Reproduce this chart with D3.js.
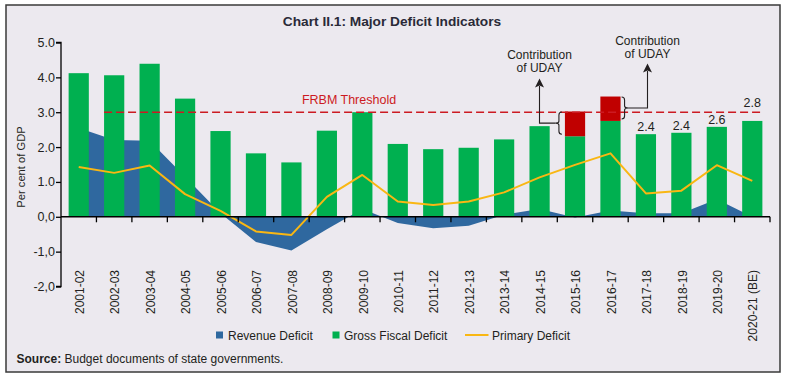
<!DOCTYPE html>
<html>
<head>
<meta charset="utf-8">
<script src="https://cdn.jsdelivr.net/npm/d3@7"></script>
<style>
  html, body { margin: 0; padding: 0; background: #ffffff; }
  svg { display: block; font-family: "Liberation Sans", Arial, sans-serif; }
</style>
</head>
<body>
<svg id="chart" width="787" height="380"></svg>
<script>
// ---------- data ----------
const categories = ["2001-02","2002-03","2003-04","2004-05","2005-06","2006-07","2007-08","2008-09","2009-10","2010-11",
                    "2011-12","2012-13","2013-14","2014-15","2015-16","2016-17","2017-18","2018-19","2019-20","2020-21 (BE)"];
const grossFiscalDeficit = [4.12,4.06,4.39,3.39,2.46,1.82,1.56,2.47,3.00,2.09,1.94,1.98,2.22,2.60,3.02,3.45,2.37,2.41,2.58,2.75];
const udayContribution   = [0,0,0,0,0,0,0,0,0,0,0,0,0,0,0.71,0.70,0,0,0,0];
const revenueDeficit     = [2.55,2.20,2.18,1.15,0.10,-0.72,-0.97,-0.36,0.22,-0.18,-0.33,-0.26,0.06,0.22,-0.02,0.18,0.10,0.10,0.50,0.00];
const primaryDeficit     = [1.43,1.26,1.47,0.65,0.17,-0.42,-0.52,0.57,1.20,0.44,0.34,0.44,0.70,1.13,1.49,1.82,0.67,0.75,1.48,1.03];
const yTickValues = [-2,-1,0,1,2,3,4,5];
const yTickLabels = ["-2,0","-1,0","0,0","1.0","2.0","3.0","4.0","5.0"];
const valueLabelCats = ["2017-18","2018-19","2019-20","2020-21 (BE)"];
const valueLabelTexts = ["2.4","2.4","2.6","2.8"];
const frbmThreshold = 3.0;
const udayCats = ["2015-16","2016-17"];

// ---------- styles ----------
const C = {
  bg: "#ece9ef", frame: "#3a3a3a", text: "#231f20",
  green: "#00b050", red: "#c00000", blue: "#2f689f", orange: "#f9b713", frbm: "#cc1a22"
};

const svg = d3.select("#chart");
svg.append("rect").attr("x",6).attr("y",5).attr("width",774).attr("height",367)
   .attr("fill",C.bg).attr("stroke",C.frame).attr("stroke-width",1.5);

const x = d3.scaleBand().domain(categories).range([61,770]).paddingInner(0.43).paddingOuter(0.215);
const step = x.step();
const y = d3.scaleLinear().domain([-2,5]).range([286.5,42.5]);
const cx = d => x(d) + x.bandwidth()/2;

// title
svg.append("text").attr("x",392).attr("y",26).attr("text-anchor","middle")
   .attr("font-size",13.7).attr("font-weight","bold").attr("fill","#2a2a38")
   .text("Chart II.1: Major Deficit Indicators");

// revenue deficit area
const area = d3.area().x((d,i)=>cx(categories[i])).y0(y(0)).y1(d=>y(d));
svg.append("path").datum(revenueDeficit).attr("d",area).attr("fill",C.blue);

// bars
const bars = svg.append("g");
categories.forEach((c,i)=>{
  const base = grossFiscalDeficit[i] - udayContribution[i];
  bars.append("rect").attr("x",x(c)).attr("width",x.bandwidth())
      .attr("y",y(base)).attr("height",y(0)-y(base)).attr("fill",C.green);
  if (udayContribution[i] > 0) {
    bars.append("rect").attr("x",x(c)).attr("width",x.bandwidth())
        .attr("y",y(grossFiscalDeficit[i])).attr("height",y(base)-y(grossFiscalDeficit[i])).attr("fill",C.red);
  }
});

// FRBM threshold
svg.append("line").attr("x1",x(categories[1])).attr("x2",x(categories[19])+x.bandwidth())
   .attr("y1",y(frbmThreshold)).attr("y2",y(frbmThreshold))
   .attr("stroke",C.frbm).attr("stroke-width",1.6).attr("stroke-dasharray","8,4");
svg.append("text").attr("x",349).attr("y",y(frbmThreshold)-8.5).attr("text-anchor","middle")
   .attr("font-size",12.5).attr("fill",C.frbm).text("FRBM Threshold");

// primary deficit line
const line = d3.line().x((d,i)=>cx(categories[i])).y(d=>y(d));
svg.append("path").datum(primaryDeficit).attr("d",line).attr("fill","none")
   .attr("stroke",C.orange).attr("stroke-width",2).attr("stroke-linejoin","round");

// axes
const yAxis = d3.axisLeft(y).tickValues(yTickValues).tickSize(5)
   .tickFormat((d,i)=>yTickLabels[i]);
const gy = svg.append("g").attr("transform","translate(61,0)").call(yAxis);
gy.select(".domain").attr("stroke","#000").attr("stroke-width",1.3).attr("d","M-5,"+y(5)+"H0V"+y(-2)+"H-5");
gy.selectAll(".tick line").attr("stroke","#000").attr("stroke-width",1.3);
gy.selectAll(".tick text").attr("font-size",12.5).attr("fill",C.text).attr("x",-6)
   .attr("font-family","Liberation Sans, Arial, sans-serif");

// x axis line and ticks at band boundaries
const gx = svg.append("g");
gx.append("line").attr("x1",61).attr("x2",770).attr("y1",y(0)).attr("y2",y(0))
  .attr("stroke","#000").attr("stroke-width",1.5);
categories.forEach((c,i)=>{
  const bx = x(c) - x.paddingOuter()*0 + x.bandwidth() + (step - x.bandwidth())/2;
  gx.append("line").attr("x1",bx).attr("x2",bx).attr("y1",y(0)).attr("y2",y(0)+5.5)
    .attr("stroke","#000").attr("stroke-width",1.3);
});
// x labels
categories.forEach(c=>{
  svg.append("text").attr("transform",`translate(${cx(c)+1},270) rotate(-90)`)
     .attr("text-anchor","end").attr("dy","0.35em").attr("font-size",12).attr("fill",C.text).text(c);
});

// y axis title
svg.append("text").attr("transform","translate(21,167) rotate(-90)").attr("text-anchor","middle")
   .attr("dy","0.35em").attr("font-size",11.2).attr("fill",C.text).text("Per cent of GDP");

// value labels
valueLabelCats.forEach((c,i)=>{
  const v = grossFiscalDeficit[categories.indexOf(c)];
  let ly = y(v) - 3;
  if (ly - 9 < y(frbmThreshold) + 1) ly = y(frbmThreshold) - 5;
  svg.append("text").attr("x",cx(c)).attr("y",ly).attr("text-anchor","middle")
     .attr("font-size",12.5).attr("fill",C.text).text(valueLabelTexts[i]);
});

// UDAY annotations
const ann = svg.append("g").attr("stroke",C.text).attr("stroke-width",1.1).attr("fill","none");
function arrowHead(ax, ay) {
  svg.append("path").attr("d",`M${ax},${ay} L${ax-4.5},${ay+9} L${ax},${ay+7} L${ax+4.5},${ay+9} Z`).attr("fill",C.text);
}
// first: brace left of 2015-16 bar
{
  const c = udayCats[0], i = categories.indexOf(c);
  const top = y(grossFiscalDeficit[i]) + 0.5, bot = y(grossFiscalDeficit[i]-udayContribution[i]) - 2;
  const mid = (top+bot)/2;
  const xv = x(c) - 6, xr = xv + 3, xn = xv - 3.5;
  ann.append("path").attr("d",`M${xr},${top} Q${xv},${top} ${xv},${top+3} L${xv},${mid-2} Q${xv},${mid} ${xn},${mid} Q${xv},${mid} ${xv},${mid+2} L${xv},${bot-3} Q${xv},${bot} ${xr},${bot}`);
  const ax = 539.5;
  ann.append("path").attr("d",`M${xn},${mid} H${ax} V86`);
  arrowHead(ax, 78.5);
  svg.append("text").attr("x",ax).attr("y",59).attr("text-anchor","middle").attr("font-size",12).attr("fill",C.text).text("Contribution");
  svg.append("text").attr("x",ax).attr("y",72).attr("text-anchor","middle").attr("font-size",12).attr("fill",C.text).text("of UDAY");
}
// second: brace right of 2016-17 bar
{
  const c = udayCats[1], i = categories.indexOf(c);
  const top = y(grossFiscalDeficit[i]) + 0.5, bot = y(grossFiscalDeficit[i]-udayContribution[i]) - 2;
  const mid = (top+bot)/2;
  const xv = x(c) + x.bandwidth() + 4, xl = xv - 3, xn = xv + 3.5;
  ann.append("path").attr("d",`M${xl},${top} Q${xv},${top} ${xv},${top+3} L${xv},${mid-2} Q${xv},${mid} ${xn},${mid} Q${xv},${mid} ${xv},${mid+2} L${xv},${bot-3} Q${xv},${bot} ${xl},${bot}`);
  const ax = 647.5;
  ann.append("path").attr("d",`M${xn},${mid} H${ax} V71`);
  arrowHead(ax, 63.5);
  svg.append("text").attr("x",ax).attr("y",45).attr("text-anchor","middle").attr("font-size",12).attr("fill",C.text).text("Contribution");
  svg.append("text").attr("x",ax).attr("y",57.5).attr("text-anchor","middle").attr("font-size",12).attr("fill",C.text).text("of UDAY");
}

// legend
const lg = svg.append("g").attr("font-size",12).attr("fill",C.text);
lg.append("rect").attr("x",216).attr("y",331.5).attr("width",7).attr("height",7).attr("fill",C.blue);
lg.append("text").attr("x",228).attr("y",339.5).text("Revenue Deficit");
lg.append("rect").attr("x",332.5).attr("y",331.5).attr("width",7).attr("height",7).attr("fill",C.green);
lg.append("text").attr("x",344).attr("y",339.5).text("Gross Fiscal Deficit");
lg.append("line").attr("x1",465).attr("x2",488.5).attr("y1",335).attr("y2",335).attr("stroke",C.orange).attr("stroke-width",2);
lg.append("text").attr("x",492).attr("y",339.5).text("Primary Deficit");

// source
const src = svg.append("text").attr("x",16.5).attr("y",362.5).attr("font-size",12).attr("fill",C.text);
src.append("tspan").attr("font-weight","bold").text("Source:");
src.append("tspan").text(" Budget documents of state governments.");
</script>
</body>
</html>
